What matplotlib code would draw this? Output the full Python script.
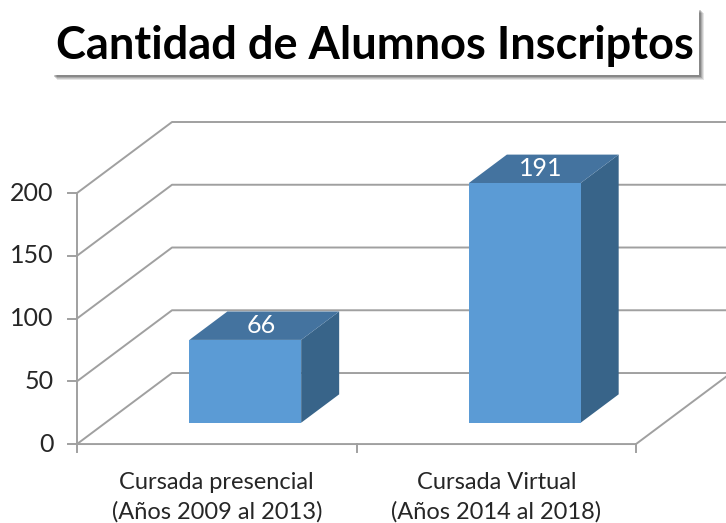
import matplotlib
matplotlib.use("Agg")
import matplotlib.pyplot as plt
from matplotlib.patches import Polygon, Rectangle

plt.rcParams["font.family"] = ["Lato", "DejaVu Sans"]

title = "Cantidad de Alumnos Inscriptos"
categories = ["Cursada presencial\n(Años 2009 al 2013)", "Cursada Virtual\n(Años 2014 al 2018)"]
values = [66, 191]
y_ticks = [0, 50, 100, 150, 200]

FRONT = "#5b9bd5"
TOP = "#44739f"
SIDE = "#386489"
GRID = "#a0a0a0"
TEXT = "#262626"

# oblique depth offset of the back wall, in data units
DX = 0.34
DY = 56.6
BAR_W = 0.4
D0, D1 = 0.3, 0.7


def proj(x, y, d):
    return (x + d * DX, y + d * DY)


def main():
    fig = plt.figure(figsize=(7.26, 5.23), dpi=100)
    ax = fig.add_axes([0, 0, 1, 1])
    ax.set_xlim(-0.2755, 2.322)
    ax.set_ylim(-62.9, 353.8)
    ax.axis("off")

    n = len(categories)
    lw = 1.4

    # back wall gridlines + side wall diagonals
    for v in y_ticks:
        ax.plot(*zip(proj(0, v, 0), proj(0, v, 1), proj(n, v, 1)),
                color=GRID, lw=lw, zorder=1, solid_capstyle="butt")
    # floor front edge and right side
    ax.plot(*zip(proj(0, 0, 0), proj(n, 0, 0), proj(n, 0, 1)),
            color=GRID, lw=lw, zorder=1)
    # vertical axis
    ax.plot([0, 0], [0, y_ticks[-1]], color=GRID, lw=lw, zorder=1)
    for v in y_ticks:
        ax.plot([-0.032, 0], [v, v], color=GRID, lw=lw, zorder=1)
        ax.text(-0.083, v, str(v), ha="right", va="center", fontsize=18, color=TEXT)
    for i in range(n + 1):
        ax.plot([i, i], [0, -6.4], color=GRID, lw=lw, zorder=1)

    # bars
    for i, (cat, v) in enumerate(zip(categories, values)):
        x0 = i + 0.5 - BAR_W / 2
        x1 = i + 0.5 + BAR_W / 2
        front = [proj(x0, 0, D0), proj(x1, 0, D0), proj(x1, v, D0), proj(x0, v, D0)]
        top = [proj(x0, v, D0), proj(x1, v, D0), proj(x1, v, D1), proj(x0, v, D1)]
        side = [proj(x1, 0, D0), proj(x1, v, D0), proj(x1, v, D1), proj(x1, 0, D1)]
        ax.add_patch(Polygon(side, closed=True, fc=SIDE, ec="none", zorder=3))
        ax.add_patch(Polygon(top, closed=True, fc=TOP, ec="none", zorder=3))
        ax.add_patch(Polygon(front, closed=True, fc=FRONT, ec="none", zorder=3))

        lx, ly = proj(i + 0.5, v, (D0 + D1) / 2)
        ax.text(lx - 0.01, ly, str(v), ha="center", va="center",
                fontsize=18, color="white", zorder=4)

        ax.text(i + 0.5, -22, cat, ha="center", va="top", fontsize=17,
                color=TEXT, linespacing=1.5)

    # title box with soft shadow
    W, H = 726.0, 523.0
    bx, by, bw, bh = 52 / W, (H - 75) / H, 647 / W, 67 / H
    for k, a in enumerate([0.10, 0.12, 0.15, 0.2]):
        off = (5 - k) / W
        fig.patches.append(Rectangle((bx + off, by - (5 - k) / H), bw, bh,
                                     transform=fig.transFigure, fc="#000000",
                                     ec="none", alpha=a, zorder=0))
    fig.patches.append(Rectangle((bx, by), bw, bh, transform=fig.transFigure,
                                 fc="white", ec="none", zorder=1))
    fig.text(374.5 / W, 1 - 59 / H, title, ha="center", va="baseline",
             fontsize=32.5, fontweight="bold", color="black", zorder=2)

    fig.savefig("out.png", dpi=100)


if __name__ == "__main__":
    main()
